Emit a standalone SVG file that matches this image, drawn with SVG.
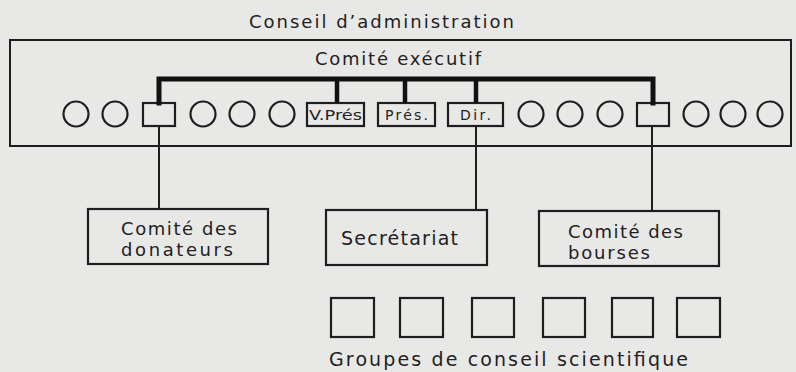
<svg xmlns="http://www.w3.org/2000/svg" width="796" height="372" viewBox="0 0 796 372">
  <style>
    .bg { fill: #e8e8e7; }
    .frame { fill: none; stroke: #1e1e1e; stroke-width: 2; }
    .box { fill: none; stroke: #1e1e1e; stroke-width: 2.2; }
    .seat { fill: none; stroke: #1e1e1e; stroke-width: 2.2; }
    .bus { fill: none; stroke: #111; stroke-width: 5; stroke-linecap: square; }
    .drop { fill: none; stroke: #111; stroke-width: 4.5; }
    .link { fill: none; stroke: #1e1e1e; stroke-width: 2; }
    text { font-family: "DejaVu Sans", "Liberation Sans", sans-serif; fill: #222; }
    .title { font-size: 18px; }
    .label { font-size: 19px; }
    .pair { font-size: 18px; }
    .tag { font-size: 14px; }
  </style>

  <rect class="bg" x="0" y="0" width="796" height="372"/>

  <!-- board of directors frame -->
  <g id="conseil">
    <text class="title" x="249" y="28" textLength="265" lengthAdjust="spacing">Conseil d’administration</text>
    <rect class="frame" x="10" y="40" width="781" height="106"/>
  </g>

  <g id="comite-executif">
    <text class="title" x="315" y="65" textLength="166" lengthAdjust="spacing">Comité exécutif</text>
  </g>

  <!-- board members -->
  <g id="membres">
    <circle class="seat" cx="76" cy="114" r="12.5"/>
    <circle class="seat" cx="115" cy="114" r="12.5"/>
    <circle class="seat" cx="203" cy="114" r="12.5"/>
    <circle class="seat" cx="242" cy="114" r="12.5"/>
    <circle class="seat" cx="282" cy="114" r="12.5"/>
    <circle class="seat" cx="531" cy="114" r="12.5"/>
    <circle class="seat" cx="570" cy="114" r="12.5"/>
    <circle class="seat" cx="610" cy="114" r="12.5"/>
    <circle class="seat" cx="696" cy="114" r="12.5"/>
    <circle class="seat" cx="733" cy="114" r="12.5"/>
    <circle class="seat" cx="770" cy="114" r="12.5"/>
  </g>

  <g id="membre-gauche">
    <rect class="box" x="143" y="103" width="32" height="23"/>
  </g>
  <g id="vice-president">
    <rect class="box" x="307" y="103" width="57" height="23"/>
    <text class="tag" x="309" y="120" textLength="53" lengthAdjust="spacingAndGlyphs">V.Prés</text>
  </g>
  <g id="president">
    <rect class="box" x="378" y="103" width="57" height="23"/>
    <text class="tag" x="385" y="120" textLength="43" lengthAdjust="spacing">Prés.</text>
  </g>
  <g id="directeur">
    <rect class="box" x="448" y="103" width="55" height="23"/>
    <text class="tag" x="460" y="120" textLength="31" lengthAdjust="spacing">Dir.</text>
  </g>
  <g id="membre-droit">
    <rect class="box" x="637" y="103" width="32" height="23"/>
  </g>

  <!-- committees -->
  <g id="comite-donateurs">
    <rect class="box" x="88" y="209" width="180" height="55"/>
    <text class="pair" x="121" y="235" textLength="116" lengthAdjust="spacing">Comité des</text>
    <text class="pair" x="121" y="256" textLength="112" lengthAdjust="spacing">donateurs</text>
  </g>
  <g id="secretariat">
    <rect class="box" x="326" y="210" width="161" height="55"/>
    <text class="label" x="341" y="245" textLength="117" lengthAdjust="spacing">Secrétariat</text>
  </g>
  <g id="comite-bourses">
    <rect class="box" x="539" y="211" width="180" height="55"/>
    <text class="pair" x="568" y="238" textLength="115" lengthAdjust="spacing">Comité des</text>
    <text class="pair" x="568" y="259" textLength="82" lengthAdjust="spacing">bourses</text>
  </g>

  <!-- scientific advisory groups -->
  <g id="groupes-conseil">
    <rect class="box" x="331" y="298" width="43" height="39"/>
    <rect class="box" x="400" y="298" width="43" height="39"/>
    <rect class="box" x="472" y="298" width="42" height="39"/>
    <rect class="box" x="543" y="298" width="42" height="39"/>
    <rect class="box" x="612" y="298" width="41" height="39"/>
    <rect class="box" x="677" y="298" width="43" height="39"/>
    <text class="label" x="329" y="366" textLength="359" lengthAdjust="spacing">Groupes de conseil scientifique</text>
  </g>

  <!-- connectors -->
  <g id="liaisons">
    <polyline class="bus" points="159,103 159,79 653,79 653,103"/>
    <line class="drop" x1="337" y1="79" x2="337" y2="103"/>
    <line class="drop" x1="405" y1="79" x2="405" y2="103"/>
    <line class="drop" x1="476" y1="79" x2="476" y2="103"/>
    <line class="link" x1="159" y1="126" x2="159" y2="209"/>
    <line class="link" x1="476" y1="126" x2="476" y2="210"/>
    <line class="link" x1="652" y1="126" x2="652" y2="211"/>
  </g>
</svg>
